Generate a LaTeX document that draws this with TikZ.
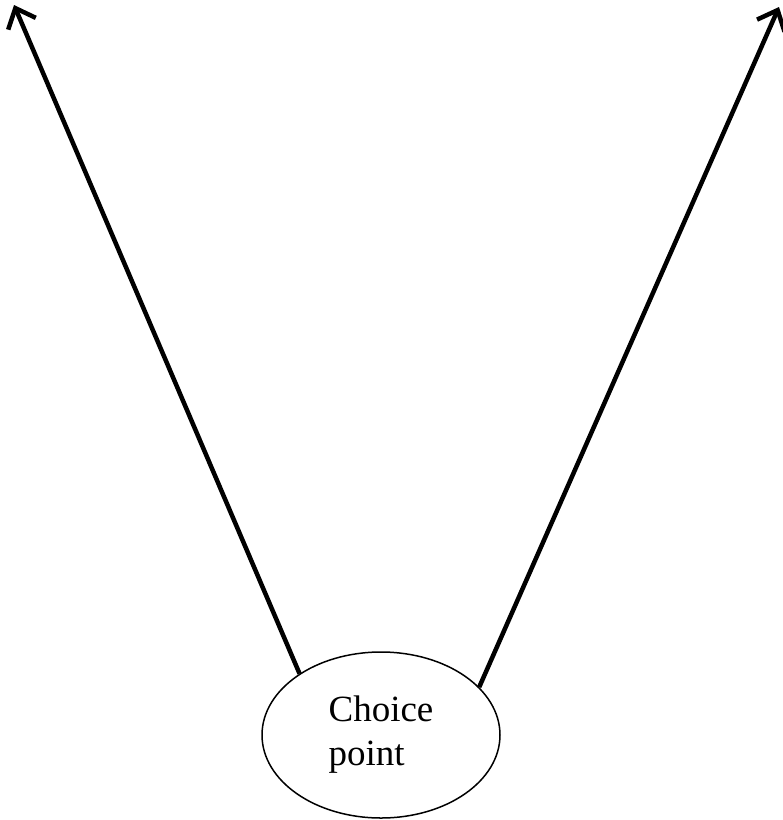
\documentclass[tikz,border=0pt]{standalone}
\usepackage{fontspec}
\setmainfont{Liberation Serif}
\usetikzlibrary{arrows.meta, shapes.geometric}
\tikzset{
  cpoint/.style={draw, ellipse, line width=1.5pt, minimum width=238pt,
                 minimum height=166pt, inner sep=0pt, align=left,
                 font=\fontsize{37}{44}\selectfont},
  br/.style={-{Straight Barb[length=17pt, width=30pt]}, line width=4.5pt},
}

\begin{document}
\begin{tikzpicture}[x=1pt, y=-1pt]
    \useasboundingbox (0,0) rectangle (783,820);
    \node[cpoint] (cp) at (381,735) {Choice\\point};
    \coordinate (lt) at (14,5);
    \coordinate (rt) at (779,7);
    \draw[br] (cp.143) -- (lt);
    \draw[br] (cp.26) -- (rt);
  \end{tikzpicture}
\end{document}
